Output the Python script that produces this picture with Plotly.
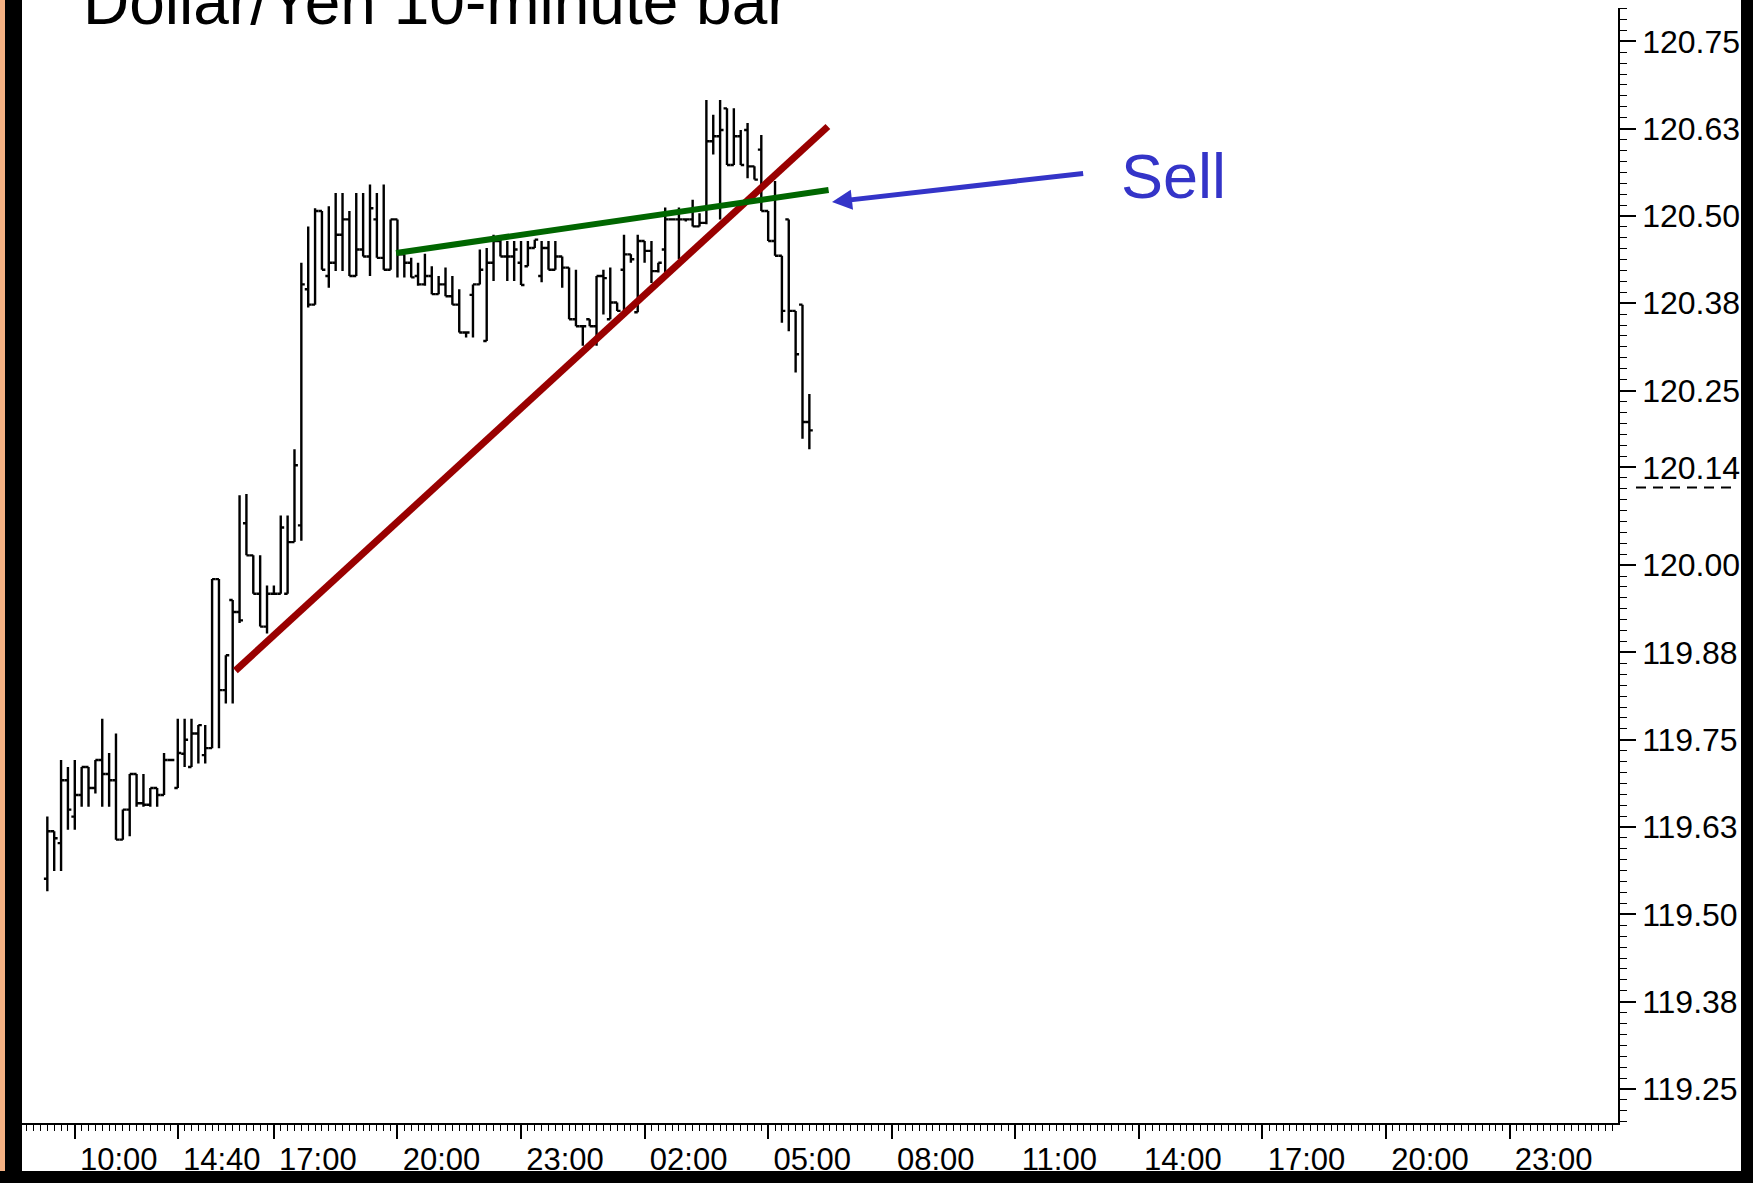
import plotly.graph_objects as go

# 10분봉 인덱스 (17:00 봉 = 0)
bar_idx = list(range(-33, 79))

opens = [
    119.551, 119.619, 119.602, 119.692, 119.640, 119.671, 119.711, 119.681, 119.721, 119.701,
    119.692, 119.607, 119.650, 119.701, 119.659, 119.657, 119.681, 119.671, 119.721, 119.681,
    119.730, 119.711, 119.759, 119.728, 119.738, 119.980, 119.821, 119.950, 119.933, 120.060,
    120.014, 119.959, 119.912,
    119.959, 119.959, 119.959, 120.033, 120.057, 120.395, 120.373, 120.507, 120.414, 120.433,
    120.473, 120.495, 120.414, 120.452, 120.442, 120.495, 120.440, 120.423, 120.495, 120.445,
    120.433, 120.414, 120.402, 120.414, 120.388, 120.402, 120.385, 120.373, 120.333, 120.387,
    120.402, 120.321, 120.433, 120.464, 120.442, 120.442, 120.433, 120.428, 120.454, 120.414,
    120.454, 120.423, 120.442, 120.426, 120.352, 120.342, 120.352, 120.342, 120.414, 120.352,
    120.376, 120.423, 120.445, 120.362, 120.464, 120.450, 120.421, 120.452, 120.495, 120.495,
    120.495, 120.495, 120.485, 120.490, 120.607, 120.614, 120.654, 120.573, 120.614, 120.623,
    120.571, 120.595, 120.507, 120.464, 120.443, 120.495, 120.364, 120.373, 120.205,
]
highs = [
    119.640, 119.619, 119.721, 119.711, 119.721, 119.711, 119.711, 119.721, 119.780, 119.731,
    119.759, 119.650, 119.701, 119.701, 119.701, 119.681, 119.681, 119.731, 119.721, 119.780,
    119.780, 119.780, 119.771, 119.771, 119.980, 119.980, 119.871, 119.950, 120.100, 120.102,
    120.014, 120.014, 119.971,
    119.971, 120.071, 120.071, 120.166, 120.433, 120.485, 120.511, 120.507, 120.514, 120.533,
    120.533, 120.507, 120.533, 120.533, 120.545, 120.533, 120.545, 120.495, 120.495, 120.445,
    120.440, 120.433, 120.446, 120.428, 120.414, 120.426, 120.414, 120.395, 120.333, 120.402,
    120.452, 120.454, 120.473, 120.466, 120.464, 120.464, 120.464, 120.464, 120.466, 120.464,
    120.464, 120.464, 120.442, 120.426, 120.423, 120.342, 120.352, 120.414, 120.423, 120.426,
    120.376, 120.473, 120.445, 120.473, 120.464, 120.464, 120.433, 120.512, 120.495, 120.512,
    120.495, 120.523, 120.504, 120.666, 120.645, 120.666, 120.654, 120.654, 120.623, 120.633,
    120.571, 120.616, 120.507, 120.550, 120.443, 120.495, 120.364, 120.373, 120.245,
]
lows = [
    119.533, 119.562, 119.562, 119.621, 119.621, 119.654, 119.654, 119.673, 119.654, 119.654,
    119.607, 119.607, 119.612, 119.654, 119.654, 119.654, 119.654, 119.671, 119.721, 119.681,
    119.711, 119.711, 119.716, 119.716, 119.738, 119.738, 119.802, 119.802, 119.917, 120.014,
    119.959, 119.912, 119.902,
    119.959, 119.959, 119.959, 120.033, 120.035, 120.369, 120.373, 120.423, 120.397, 120.421,
    120.421, 120.414, 120.414, 120.442, 120.414, 120.440, 120.423, 120.423, 120.412, 120.412,
    120.412, 120.400, 120.400, 120.388, 120.388, 120.385, 120.373, 120.333, 120.326, 120.326,
    120.402, 120.321, 120.407, 120.442, 120.407, 120.407, 120.401, 120.428, 120.454, 120.405,
    120.423, 120.423, 120.397, 120.352, 120.342, 120.314, 120.342, 120.314, 120.359, 120.352,
    120.364, 120.362, 120.433, 120.362, 120.433, 120.404, 120.419, 120.419, 120.495, 120.438,
    120.492, 120.485, 120.485, 120.488, 120.588, 120.495, 120.573, 120.573, 120.573, 120.554,
    120.552, 120.507, 120.464, 120.443, 120.347, 120.335, 120.276, 120.181, 120.166,
]
closes = [
    119.619, 119.609, 119.692, 119.650, 119.671, 119.711, 119.681, 119.721, 119.701, 119.692,
    119.607, 119.650, 119.701, 119.659, 119.657, 119.681, 119.671, 119.721, 119.721, 119.731,
    119.750, 119.759, 119.771, 119.738, 119.980, 119.821, 119.871, 119.933, 119.921, 120.014,
    119.959, 119.912, 119.959,
    119.959, 120.054, 120.033, 120.143, 120.402, 120.373, 120.507, 120.423, 120.433, 120.473,
    120.495, 120.414, 120.452, 120.442, 120.511, 120.440, 120.423, 120.495, 120.445, 120.433,
    120.412, 120.402, 120.414, 120.388, 120.402, 120.385, 120.373, 120.333, 120.333, 120.402,
    120.423, 120.433, 120.464, 120.442, 120.442, 120.452, 120.401, 120.454, 120.466, 120.454,
    120.423, 120.442, 120.426, 120.352, 120.342, 120.342, 120.342, 120.414, 120.411, 120.376,
    120.364, 120.445, 120.438, 120.464, 120.450, 120.421, 120.433, 120.495, 120.495, 120.495,
    120.495, 120.485, 120.490, 120.607, 120.614, 120.623, 120.573, 120.614, 120.573, 120.571,
    120.552, 120.507, 120.464, 120.443, 120.364, 120.364, 120.302, 120.205, 120.193,
]

# 추세선 (봉 인덱스, 가격)
support_x = [-5.6, 80.7]
support_y = [119.849, 120.628]
resist_x = [17.8, 80.8]
resist_y = [120.447, 120.537]
sell_head = (81.3, 120.520)
sell_tail = (118.1, 120.561)
sell_text_pos = (131.1, 120.557)

# 축 눈금
x_tickvals = [-29, -14, 0, 18, 36, 54, 72, 90, 108, 126, 144, 162, 180]
x_ticktext = ["10:00", "14:40", "17:00", "20:00", "23:00", "02:00", "05:00",
              "08:00", "11:00", "14:00", "17:00", "20:00", "23:00"]
y_tickvals = [119.25, 119.375, 119.5, 119.625, 119.75, 119.875, 120.0, 120.14,
              120.25, 120.375, 120.5, 120.625, 120.75]
y_ticktext = ["119.25", "119.38", "119.50", "119.63", "119.75", "119.88", "120.00",
              "120.14", "120.25", "120.38", "120.50", "120.63", "120.75"]

W, H = 1753, 1185
PL, PR, PT, PB = 22, 1618, 8, 1125


def px(x):
    return (x - PL) / (PR - PL)


def py(y):
    return (PB - y) / (PB - PT)


blue = "#3434c8"

fig = go.Figure()

fig.add_trace(go.Ohlc(
    x=bar_idx, open=opens, high=highs, low=lows, close=closes,
    increasing=dict(line=dict(color="black", width=2.4)),
    decreasing=dict(line=dict(color="black", width=2.4)),
    tickwidth=0.5, showlegend=False, hoverinfo="skip",
))

fig.add_trace(go.Scatter(x=support_x, y=support_y, mode="lines",
                         line=dict(color="#990000", width=7), showlegend=False, hoverinfo="skip"))
fig.add_trace(go.Scatter(x=resist_x, y=resist_y, mode="lines",
                         line=dict(color="#006600", width=6), showlegend=False, hoverinfo="skip"))

fig.add_annotation(x=sell_head[0], y=sell_head[1], ax=sell_tail[0], ay=sell_tail[1],
                   xref="x", yref="y", axref="x", ayref="y", text="", showarrow=True,
                   arrowhead=2, arrowsize=0.8, arrowwidth=5, arrowcolor=blue)
fig.add_annotation(x=sell_text_pos[0], y=sell_text_pos[1], xref="x", yref="y",
                   text="Sell", showarrow=False, xanchor="center", yanchor="middle",
                   font=dict(family="Liberation Sans, Arial", size=63, color=blue))

# 제목 (위쪽이 잘려 있음)
fig.add_annotation(x=px(81), y=py(2), xref="paper", yref="paper",
                   text="Dollar/Yen 10-minute bar", showarrow=False,
                   xanchor="left", yanchor="middle",
                   font=dict(family="Liberation Sans, Arial", size=64, color="black"))

# 현재가 라벨 밑줄
fig.add_shape(type="line", xref="paper", yref="y", x0=px(1636), x1=px(1733),
              y0=120.111, y1=120.111, line=dict(color="black", width=2, dash="10px,7px"))

# 테두리
frame = [
    (0, 5, 0, H, "#f4b183"),
    (5, PL, 0, H, "black"),
    (1741, W, 0, H, "black"),
    (0, W, 1173, H, "black"),
]
for x0, x1, y0, y1, col in frame:
    fig.add_shape(type="rect", xref="paper", yref="paper",
                  x0=px(x0), x1=px(x1), y0=py(y1), y1=py(y0),
                  line=dict(width=0), fillcolor=col, layer="above")

tick_font = dict(family="Liberation Sans, Arial", size=31, color="black")

fig.update_layout(
    width=W, height=H,
    margin=dict(l=PL, r=W - PR, t=PT, b=H - PB, pad=0),
    paper_bgcolor="white", plot_bgcolor="white",
    showlegend=False,
    xaxis=dict(
        range=[-36.69, 195.79], rangeslider=dict(visible=False),
        showgrid=False, zeroline=False,
        showline=True, linecolor="black", linewidth=1.5,
        tickmode="array", tickvals=x_tickvals, ticktext=x_ticktext,
        ticks="outside", ticklen=14, tickwidth=1.5, tickcolor="black",
        ticklabelshift=44, ticklabelstandoff=-6, tickfont=tick_font,
        minor=dict(tickmode="linear", tick0=0, dtick=1, ticks="outside",
                   ticklen=6, tickwidth=1, tickcolor="black"),
    ),
    yaxis=dict(
        range=[119.2013, 120.7977], side="right",
        showgrid=False, zeroline=False,
        showline=True, linecolor="black", linewidth=1.5,
        tickmode="array", tickvals=y_tickvals, ticktext=y_ticktext,
        ticks="outside", ticklen=16, tickwidth=1.5, tickcolor="black",
        tickfont=dict(family="Liberation Sans, Arial", size=32, color="black"),
        minor=dict(tickmode="linear", tick0=119.25, dtick=0.015625, ticks="outside",
                   ticklen=7, tickwidth=1, tickcolor="black"),
    ),
)

# 페이지 기본 여백 제거, 툴바 숨김
fig.write_html("out.html", config={"displayModeBar": False},
               post_script="document.body.style.margin='0px';")
